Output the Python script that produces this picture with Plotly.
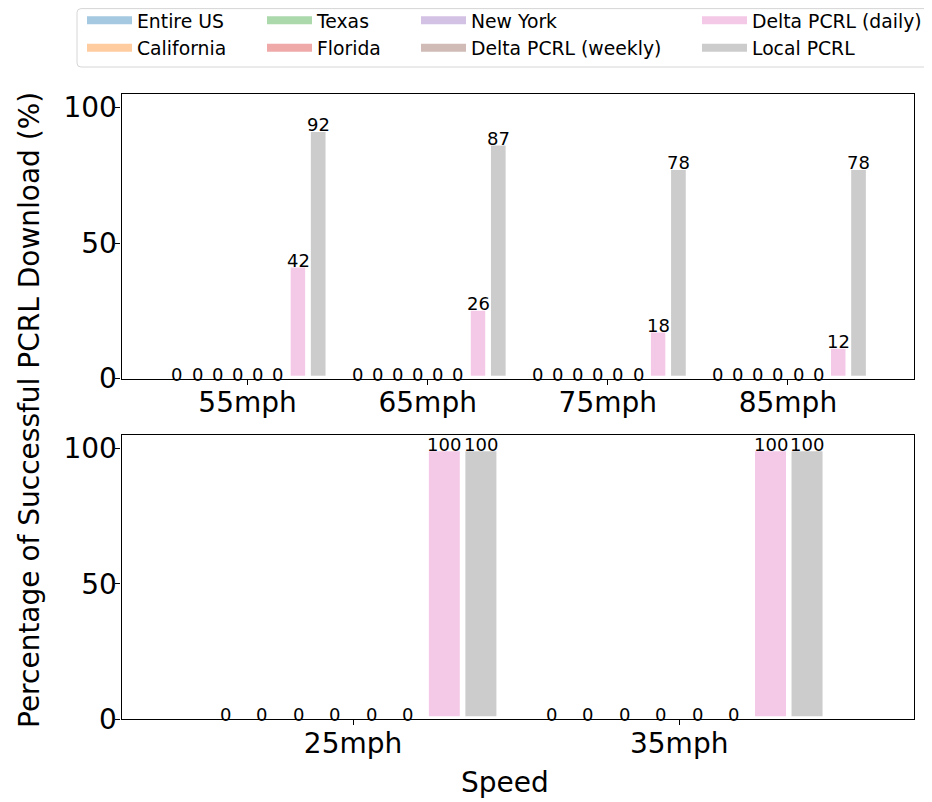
import plotly.graph_objects as go

# ---------------- data ----------------
series_names = ["Entire US", "California", "Texas", "Florida", "New York",
                "Delta PCRL (weekly)", "Delta PCRL (daily)", "Local PCRL"]
series_colors = ["#a5c9e1", "#ffcc9f", "#abd9ab", "#efa9a9", "#d4c2e5",
                 "#d1bbb7", "#f4c9e7", "#cccccc"]

high_speeds = ["55mph", "65mph", "75mph", "85mph"]
high_entire_us = [0, 0, 0, 0]
high_california = [0, 0, 0, 0]
high_texas = [0, 0, 0, 0]
high_florida = [0, 0, 0, 0]
high_new_york = [0, 0, 0, 0]
high_delta_weekly = [0, 0, 0, 0]
high_delta_daily = [42, 26, 18, 12]
high_local = [92, 87, 78, 78]

low_speeds = ["25mph", "35mph"]
low_entire_us = [0, 0]
low_california = [0, 0]
low_texas = [0, 0]
low_florida = [0, 0]
low_new_york = [0, 0]
low_delta_weekly = [0, 0]
low_delta_daily = [100, 100]
low_local = [100, 100]

high_values = [high_entire_us, high_california, high_texas, high_florida,
               high_new_york, high_delta_weekly, high_delta_daily, high_local]
low_values = [low_entire_us, low_california, low_texas, low_florida,
              low_new_york, low_delta_weekly, low_delta_daily, low_local]

# ---------------- layout ----------------
# the page body has an 8px margin: the figure fills the rest of the window
OFF = 8
W, H = 932 - OFF, 802 - OFF
BAR_W = 0.112
EDGE = 5.5
FONT = "DejaVu Sans"


def px_x(p):
    return (p - OFF) / W


def px_y(p):
    return 1 - (p - OFF) / H


fig = go.Figure()
annotations = []

panels = [("x", "y", high_speeds, high_values), ("x2", "y2", low_speeds, low_values)]
n = len(series_names)
for xa, ya, cats, vals in panels:
    for i, (name, col, v) in enumerate(zip(series_names, series_colors, vals)):
        xs = [j + (i - (n - 1) / 2) * BAR_W for j in range(len(cats))]
        fig.add_trace(go.Bar(
            x=xs, y=v, width=BAR_W, xaxis=xa, yaxis=ya,
            marker=dict(color=col, line=dict(color="white", width=EDGE)),
            showlegend=False, hoverinfo="skip"))
        for xv, yv in zip(xs, v):
            annotations.append(dict(
                x=xv, y=yv, xref=xa, yref=ya, text=str(yv), showarrow=False,
                yanchor="bottom", yshift=-8, font=dict(family=FONT, size=18, color="black")))

# legend proxies: 8 single-entry legends arranged in 4 columns x 2 rows
text_cols = [137, 317, 471, 752]
row_y = [20.5, 48]
ITEM_W = 45
legend_layout = {}
for k, (name, col) in enumerate(zip(series_names, series_colors)):
    c, r = divmod(k, 2)
    key = "legend" if k == 0 else f"legend{k + 1}"
    fig.add_trace(go.Scatter(x=[None], y=[None], mode="lines", name=name,
                             line=dict(color=col, width=8), legend=key,
                             xaxis="x", yaxis="y"))
    legend_layout[key] = dict(
        x=px_x(text_cols[c] - ITEM_W - 10), y=px_y(row_y[r]),
        xanchor="left", yanchor="middle", itemwidth=ITEM_W,
        bgcolor="rgba(0,0,0,0)", borderwidth=0,
        font=dict(family=FONT, size=18.8, color="black"))

axis_common = dict(showline=True, linecolor="black", linewidth=1.1, mirror=True,
                   ticks="outside", ticklen=5, tickwidth=1.1, tickcolor="black",
                   showgrid=False, zeroline=False, automargin=False,
                   tickfont=dict(family=FONT, size=28, color="black"))

fig.update_layout(
    width=W, height=H, margin=dict(l=0, r=0, t=0, b=0, autoexpand=False),
    paper_bgcolor="white", plot_bgcolor="white", barmode="overlay",
    xaxis=dict(domain=[px_x(121.5), px_x(914)], range=[-0.7, 3.7],
               tickvals=list(range(len(high_speeds))), ticktext=high_speeds,
               anchor="y", ticklabelstandoff=-6, **axis_common),
    yaxis=dict(domain=[px_y(378.5), px_y(94)], range=[0, 105], tickvals=[0, 50, 100],
               anchor="x", ticklabelstandoff=-7, **axis_common),
    xaxis2=dict(domain=[px_x(121.5), px_x(914)], range=[-0.71, 1.72],
                tickvals=list(range(len(low_speeds))), ticktext=low_speeds,
                anchor="y2", ticklabelstandoff=-6, **axis_common),
    yaxis2=dict(domain=[px_y(719), px_y(435)], range=[0, 105], tickvals=[0, 50, 100],
                anchor="x2", ticklabelstandoff=-7, **axis_common),
    **legend_layout,
)

annotations.append(dict(x=px_x(29), y=px_y(410), xref="paper", yref="paper",
                        text="Percentage of Successful PCRL Download (%)", textangle=-90,
                        showarrow=False, xanchor="center", yanchor="middle",
                        font=dict(family=FONT, size=28, color="black")))
annotations.append(dict(x=px_x(505), y=px_y(782), xref="paper", yref="paper",
                        text="Speed", showarrow=False, xanchor="center", yanchor="middle",
                        font=dict(family=FONT, size=28, color="black")))
fig.update_layout(annotations=annotations)

# legend frame
x0, x1, rr = px_x(77), px_x(929), 4
y0, y1 = min(px_y(6), 1 - 0.6 / H), px_y(67)
rx, ry = rr / W, rr / H
path = (f"M{x0 + rx},{y0} L{x1 - rx},{y0} Q{x1},{y0} {x1},{y0 - ry} "
        f"L{x1},{y1 + ry} Q{x1},{y1} {x1 - rx},{y1} L{x0 + rx},{y1} "
        f"Q{x0},{y1} {x0},{y1 + ry} L{x0},{y0 - ry} Q{x0},{y0} {x0 + rx},{y0} Z")
fig.add_shape(type="path", path=path, xref="paper", yref="paper",
              line=dict(color="#d6d6d6", width=1), fillcolor="rgba(255,255,255,0.8)",
              layer="below")

fig.write_html("out.html")
